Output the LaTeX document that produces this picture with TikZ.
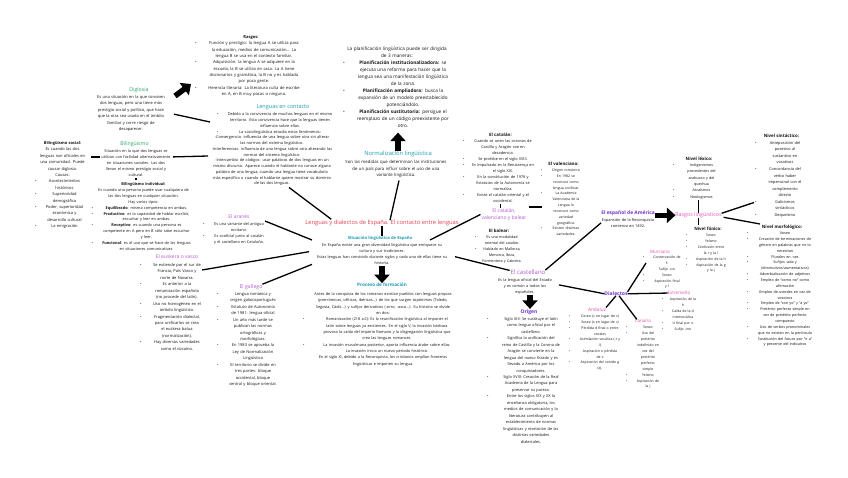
\documentclass[tikz,border=0pt]{standalone}
\usepackage{fontspec}
\setmainfont{Open Sans}
\usetikzlibrary{arrows.meta,calc}
\definecolor{txtc}{RGB}{20,20,20}
\definecolor{cgreen}{RGB}{45,165,100}
\definecolor{cteal}{RGB}{30,155,178}
\definecolor{ccoral}{RGB}{225,65,82}
\definecolor{cpurple}{RGB}{180,88,212}
\definecolor{cviolet}{RGB}{115,50,200}
\definecolor{cpink}{RGB}{225,85,178}
\newcommand\fsz[2]{\fontsize{#1}{#2}\selectfont\lineskip=0pt\lineskiplimit=0pt\parskip=0pt\parindent=0pt}
\newcommand\cl[1]{\begin{tabular}[t]{@{}c@{}}#1\end{tabular}}
\newcommand\bi[2][5pt]{\par\noindent\makebox[#1][l]{\textbullet}\makebox[\dimexpr\hsize-#1\relax][c]{\cl{#2}}\par}
\newcommand\bix[3]{\par\noindent\hspace*{#1}\makebox[#2][l]{\textbullet}\makebox[\dimexpr\hsize-#1-#2\relax][c]{\cl{#3}}\par}
\newcommand\ct[1]{\par\noindent\makebox[\hsize][c]{\cl{#1}}\par}
\newcommand\hd[1]{\textbf{\fontsize{4.4}{5}\selectfont #1}}
\begin{document}
\begin{tikzpicture}[x=1pt,y=-1pt,
 blk/.style={inner sep=0pt,outer sep=0pt,anchor=north,text width=#1pt,align=left,text=txtc},
 ttl/.style={inner sep=0pt,outer sep=0pt,anchor=mid},
 conn/.style={draw=black,line width=1.3pt},
 barrow/.style={draw=black,line width=5.5pt,-{Triangle[width=15pt,length=8.5pt]}}]
\fill[white] (0,0) rectangle (848,477);
\useasboundingbox (0,0) rectangle (848,477);

% ---------- left part ----------
\node[blk=112,font=\fsz{4.1}{6.35}] (rasgt) at (251,32) {\ct{\textbf{Rasgos:}}%
\bi[6pt]{Función y prestigio: la lengua A se utiliza para\\la educación, medios de comunicación... La\\lengua B se usa en el contexto familiar.}%
\bi[6pt]{Adquisición: la lengua A se adquiere en la\\escuela; la B se utiliza en casa. La A tiene\\diccionarios y gramática, la B no y es hablada\\por poca gente.}%
\bi[6pt]{Herencia literaria: La literatura culta de escribe\\en A, en B muy pocas o ninguna.}};

\node[ttl,text=cgreen,font=\fsz{5.2}{6}] (dig) at (139,89) {Diglosia};
\node[blk=90,font=\fsz{4}{6.4}] (digt) at (131,92) {\ct{Es una situación en la que conviven\\dos lenguas, pero una tiene más\\prestigio social y político, que hace\\que la otra sea usada en el ámbito\\familiar y corre riesgo de\\desaparecer.}};

\node[blk=55,font=\fsz{4}{6.4}] (bsoc) at (62.5,138) {\ct{\textbf{Bilingüismo social:}\\Es cuando las dos\\lenguas son oficiales en\\una comunidad. Puede\\causar diglosia.\\Causas:}%
\bi[4pt]{Acontecimientos\\históricos}\bi[4pt]{Superioridad\\demográfica}\bi[4pt]{Poder, superioridad\\económica y\\desarrollo cultural}\bi[4pt]{La emigración}};

\node[ttl,text=cgreen,font=\fsz{5.2}{6}] (bil) at (134.5,143) {Bilingüismo};
\node[blk=84,font=\fsz{3.85}{6}] (bilt) at (136,146) {\ct{Situación en la que dos lenguas se\\utilizan con facilidad alternativamente\\en situaciones sociales. Las dos\\llevan el mismo prestigio social y\\cultural.}};

\node[blk=104,font=\fsz{3.85}{5.85}] (bind) at (143.5,180) {\ct{\textbf{Bilingüismo individual:}\\Es cuando una persona puede usar cualquiera de\\las dos lenguas en cualquier situación.\\Hay varios tipos:}%
\bi[6pt]{\textbf{Equilibrado}: misma competencia en ambas.}%
\bi[6pt]{\textbf{Productivo}: es la capacidad de hablar escribir,\\escuchar y leer en ambas.}%
\bi[6pt]{\textbf{Receptivo}: es cuando una persona es\\competente en A pero en B sólo sabe escuchar\\y leer.}%
\bi[6pt]{\textbf{Funcional}: es el uso que se hace de las lenguas\\en situaciones comunicativas.}};

\node[ttl,text=cteal,font=\fsz{5.5}{6}] (cont) at (283,105.5) {Lenguas en contacto};
\node[blk=132,font=\fsz{3.9}{5.75}] (contt) at (272,110) {%
\bix{11pt}{5pt}{Debido a la convivencia de muchas lenguas en el mismo\\territorio. Esta convivencia hace que la lenguas tienen\\influencia sobre ellas.}%
\bix{11pt}{5pt}{La sociolingüística estudia estos fenómenos:}%
\ct{-Convergencia: influencia de una lengua sobre otra sin alterar\\las normas del sistema lingüístico.\\-Interferencias: influencia de una lengua sobre otra alterando las\\normas del sistema lingüístico.\\-Intercambio de códigos: usar palabras de dos lenguas en un\\mismo discurso. Aparece cuando el hablante no conoce alguna\\palabra de una lengua, cuando una lengua tiene vocabulario\\más específico o cuando el hablante quiere mostrar su dominio\\de las dos lenguas.}};

% ---------- centre ----------
\node[blk=120,font=\fsz{4.7}{7}] (plant) at (397,43.5) {\ct{La planificación lingüística puede ser dirigida\\de 3 maneras:}%
\bix{6pt}{6pt}{\textbf{Planificación institucionalizadora:} se\\ejecuta una reforma para hacer que la\\lengua sea una manifestación lingüística\\de la zona.}%
\bix{6pt}{6pt}{\textbf{Planificación ampliadora:} busca la\\expansión de un modelo preestablecido\\potenciándolo.}%
\bix{6pt}{6pt}{\textbf{Planificación sustitutoria:} persigue el\\reemplazo de un código preexistente por\\otro.}};

\node[ttl,text=cteal,font=\fsz{5.8}{6}] (norm) at (398,153) {Normalización lingüística};
\node[blk=130,font=\fsz{4.3}{6.5}] (normt) at (396,157) {\ct{Son las medidas que determinan las instituciones\\de un país para influir sobre el uso de una\\variante lingüística.}};

\node[ttl,text=ccoral,font=\fsz{5.8}{6}] (title) at (382,222) {Lenguas y dialectos de España. El contacto entre lenguas};

\node[ttl,text=cteal,font=\fsz{4.2}{6}\bfseries] (sit) at (380,236.5) {Situación lingüística de España};
\node[blk=150,font=\fsz{3.85}{5.9}] (sitt) at (382,241) {\ct{En España existe una gran diversidad lingüística que enriquece su\\cultura y sus tradiciones.\\Estas lenguas han convivido durante siglos y cada una de ellas tiene su\\historia.}};

\node[ttl,text=cteal,font=\fsz{4.6}{6}\bfseries] (proc) at (382,284) {Proceso de formación};
\node[blk=166,font=\fsz{3.85}{6.35}] (proct) at (383,289) {\ct{Antes de la conquista de los romanos existían pueblos con lenguas propias\\(prerrómicas, célticas, ibéricas...) de los que surgen topónimos (Toledo,\\Segovia, Cádiz...) y sufijos derivativos (-orro, -asco...). Su historia se divide\\en dos:}%
\bix{3pt}{5pt}{Romanización (218 a.C): Es la reunificación lingüística al imponer el\\latín sobre lenguas ya existentes. En el siglo V, la invasión bárbara\\provoca la caída del Imperio Romano y la disgregación lingüística que\\crea las lenguas romances.}%
\bix{3pt}{5pt}{La invasión musulmana posterior, aporta influencia árabe sobre ellas.\\La invasión inicia un nuevo periodo histórico.}%
\ct{En el siglo XI, debido a la Reconquista, los cristianos amplían fronteras\\lingüísticas e imponen su lengua.}};

\node[ttl,text=cpurple,font=\fsz{5}{6}] (aran) at (239,216) {El aranés};
\node[blk=66,font=\fsz{3.85}{6.1}] (arant) at (236,219) {\bi[6pt]{Es una variante del antiguo\\occitano.}\bi[6pt]{Es cooficial junto al catalán\\y el castellano en Cataluña.}};

\node[ttl,text=cpurple,font=\fsz{5}{6}] (eusk) at (177,256) {El euskera o vasco};
\node[blk=68,font=\fsz{4}{6.45}] (euskt) at (174,260) {%
\bi[6pt]{Se extiende por el sur de\\Francia, País Vasco y\\norte de Navarra.}%
\bi[6pt]{Es anterior a la\\romanización española\\(no procede del latín).}%
\bi[6pt]{Uso no homogéneo en el\\ámbito lingüístico.}%
\bi[6pt]{Fragmentación dialectal,\\para unificarlos se crea\\el euskera batua\\(normalización).}%
\bi[6pt]{Hay diversas variedades\\como el vizcaíno.}};

\node[ttl,text=cpurple,font=\fsz{5.2}{6}] (gall) at (251,285.5) {El gallego};
\node[blk=65,font=\fsz{4}{6.43}] (gallt) at (249.5,289) {%
\bi[7pt]{Lengua románica y\\origen galaicoportugués}%
\bi[7pt]{Estatuto de Autonomía\\de 1981: lengua oficial}%
\bi[7pt]{Un año más tarde se\\publican las normas\\ortográficas y\\morfológicas.}%
\bi[7pt]{En 1983 se aprueba la\\Ley de Normalización\\Lingüística}%
\bi[7pt]{El territorio se divide en\\tres partes: bloque\\occidental, bloque\\central y bloque oriental.}};

% ---------- right part ----------
\node[blk=75,font=\fsz{3.85}{6}] (catt) at (500.5,130) {\ct{\hd{El catalán:}}%
\bi{Cuando se unen las coronas de\\Castilla y Aragón cae en\\decadencia.}%
\bi{Se prohibe en el siglo XVIII.}%
\bi{Es impulsado en la Renaixença en\\el siglo XIX.}%
\bi{En la constitución de 1978 y\\Estatutos de la Autonomía se\\normaliza.}%
\bi{Existe el catalán oriental y el\\occidental.}};

\node[inner sep=0pt,align=center,text=cpurple,font=\fsz{5}{7}] (catl) at (504,214.5) {El catalán,\\valenciano y balear};

\node[blk=45,font=\fsz{3.5}{5.83}] (valt) at (563.5,160) {\ct{\hd{El valenciano:}}%
\bi{Origen románico}%
\bi{En 1982 se\\reconoce como\\lengua cooficial.}%
\bi{La Academia\\Valenciana de la\\Lengua lo\\reconoce como\\variedad\\geográfica.}%
\bi{Existen distintas\\variedades.}};

\node[blk=48,font=\fsz{3.7}{5.9}] (balt) at (499,227) {\ct{\hd{El balear:}}%
\bi[6pt]{Es una modalidad\\oriental del catalán.}%
\bi[6pt]{Hablado en Mallorca,\\Menorca, Ibiza,\\Formentera y Cabrera.}};

\node[ttl,text=cpurple,font=\fsz{6}{7}] (cast) at (528,272) {El castellano};
\node[blk=60,font=\fsz{3.85}{6}] (castt) at (525,275) {\ct{Es la lengua oficial del Estado\\y es común a todos los\\españoles.}};

\node[ttl,text=cviolet,font=\fsz{5}{6}\bfseries] (orig) at (529,311) {Origen};
\node[blk=81,font=\fsz{3.9}{6.45}] (origt) at (527.5,314) {%
\bi[7pt]{Siglo XIII: Se sustituye el latín\\como lengua oficial por el\\castellano.}%
\bi[7pt]{Significa la unificación del\\reino de Castilla y la Corona de\\Aragón se convierte en la\\lengua del nuevo Estado y es\\llevado a América por los\\conquistadores.}%
\bi[7pt]{Siglo XVIII: Creación de la Real\\Academia de la Lengua para\\preservar su pureza.}%
\bi[7pt]{Entre los siglos XIX y XX la\\enseñanza obligatoria, los\\medios de comunicación y la\\literatura contribuyen al\\establecimiento de normas\\lingüísticas y nivelación de las\\distintas variedades\\dialectales.}};

\node[ttl,text=cviolet,font=\fsz{5}{6}\bfseries] (dial) at (616,293) {Dialectos};

\node[ttl,text=cpink,font=\fsz{4.8}{6}] (and) at (597,308.5) {Andaluz};
\node[blk=57,font=\fsz{3.5}{5.75}] (andt) at (597.5,312) {%
\bi{Ceceo (c en lugar de s)}\bi{Seseo (s en lugar de c)}%
\bi{Pérdida d final o entre\\vocales}\bi{Asimilación vocálica (-r y\\-l)}%
\bi{Aspiración o pérdida\\de s}\bi{Aspiración del sonido g\\(x).}};

\node[ttl,text=cpink,font=\fsz{4.5}{6}] (murc) at (660,251) {Murciano};
\node[blk=43,font=\fsz{3.5}{5.8}] (murct) at (664.5,253) {%
\bi{Conservación de\\f-}\bi{Sufijo -ico}\bi{Seseo}\bi{Aspiración final\\y l}};

\node[ttl,text=cpink,font=\fsz{4.5}{6}] (extr) at (679,292) {Extremeño};
\node[blk=37,font=\fsz{3.5}{5.9}] (extrt) at (680.5,295) {%
\bi{Aspiración de la\\h}\bi{Caída de la d\\intervocálica}\bi{U final por o}\bi{Sufijo -ino}};

\node[ttl,text=cpink,font=\fsz{4.5}{6}] (can) at (643,320) {Canario};
\node[blk=39,font=\fsz{3.5}{5.9}] (cant) at (645.5,323) {%
\bi{Seseo}\bi{Uso del\\pretérito\\indefinido en\\vez del\\pretérito\\perfecto\\simple}\bi{Yeísmo}\bi{Aspiración de\\la j}};

\node[ttl,text=cviolet,font=\fsz{4.9}{6}\bfseries] (amer) at (628,212) {El español de América};
\node[blk=70,font=\fsz{3.85}{6}] (amert) at (628,215) {\ct{Expansión de la Reconquista\\comienza en 1492.}};

\node[ttl,text=cpink,font=\fsz{5.3}{6}] (rasgl) at (698.5,214) {Rasgos lingüísticos};

\node[blk=52,font=\fsz{3.7}{6.3}] (lext) at (699,154) {\ct{\hd{Nivel léxico:}}%
\bi{Indigenismos\\procedentes del\\arahuaco y del\\quechua}\bi{Arcaísmos}\bi{Neologismos}};

\node[blk=44,font=\fsz{3.5}{5.86}] (fonict) at (708,225) {\ct{\hd{Nivel fónico:}}%
\bi[6pt]{Seseo}\bi[6pt]{Yeísmo}\bi[6pt]{Confusión entre\\la r y la l}\bi[6pt]{Aspiración de la h}\bi[6pt]{Aspiración de la g\\y la j}};

\node[blk=53,font=\fsz{3.9}{6.58}] (sintt) at (781.5,131) {\ct{\hd{Nivel sintáctico:}}%
\bi[7pt]{Anteposición del\\posesivo al\\sustantivo en\\vocativos}%
\bi[7pt]{Concordancia del\\verbo haber\\impersonal con el\\complemento\\directo}%
\bi[7pt]{Galicismos\\sintácticos}\bi[7pt]{Dequeísmo}};

\node[blk=70,font=\fsz{3.7}{5.85}] (morft) at (782,223) {\ct{\hd{Nivel morfológico:}}%
\bi[6pt]{Voseo}%
\bi[6pt]{Creación de terminaciones de\\género en palabras que no lo\\necesitan}%
\bi[6pt]{Plurales en -ses}%
\bi[6pt]{Sufijos -ada y\\(diminutivos/aumentativos)}%
\bi[6pt]{Adverbialización de adjetivos}%
\bi[6pt]{Empleo de “como no” como\\afirmación}%
\bi[6pt]{Empleo de ustedes en vez de\\vosotros}%
\bi[6pt]{Empleo de “con yo” y “a yo”}%
\bi[6pt]{Pretérito perfecto simple en\\vez de pretérito perfecto\\compuesto}%
\bi[6pt]{Uso de verbos pronominales\\que no existen en la península}%
\bi[6pt]{Sustitución del futuro por “ir a”\\y presente del indicativo}};

% ---------- connectors ----------
\draw[conn] ($(digt.east)+(-2,2)$) -- ($(contt.north west)+(4,12)$);
\draw[conn] ($(bilt.east)+(-5,-5)$) -- ($(contt.north west)+(2,46)$);
\draw[conn] ($(bsoc.north east)+(1,19)$) -- ($(bilt.north west)+(6,11)$);
\draw[conn] (bilt.south) -- (bilt.south |- bind.north);
\draw[conn] ($(contt.south)+(17,1)$) -- ($(title.north west)+(26,-1)$);
\draw[conn] ($(arant.north east)+(-4,2)$) -- ($(sitt.north west)+(5,-1)$);
\draw[conn] ($(euskt.north east)+(-6,10)$) -- ($(sitt.west)+(2,-2)$);
\draw[conn] (gall.north east) -- ($(sitt.south west)+(5,-2)$);
\draw[conn] ($(title.north)+(8,0)$) -- ($(normt.south)+(3,2)$);
\draw[conn] (title.south) -- (title.south |- sit.north);
\draw[conn] ($(sitt.north east)+(-27,-1)$) -- ($(catl.west)+(-1,0)$);
\draw[conn] ($(sitt.east)+(-2,3)$) -- ($(cast.west)+(-1,-2)$);
\draw[conn] (catt.south) -- (catt.south |- catl.north);
\draw[conn,line width=1.8pt] ($(catl.north east)+(2,-1)$) -- ($(catl.north east -| valt.west)+(1,-1)$);
\draw[conn] (cast.north east) -- ($(amert.west)+(8,1)$);
\draw[conn] ($(castt.east)+(4,0)$) -- (dial.west);
\draw[conn] (dial.south) -- (and.north east);
\draw[conn] (dial.north east) -- ($(murct.north west)+(3,10)$);
\draw[conn] (dial.east) -- (extr.west);
\draw[conn] ($(dial.south)+(3,0)$) -- ($(can.north west)+(2,0)$);
\draw[conn] (rasgl.north) -- (rasgl.north |- lext.south);
\draw[conn] (rasgl.south) -- (rasgl.south |- fonict.north);
\draw[conn] ($(rasgl.east)+(0,-2)$) -- ($(sintt.south west)+(-1,-16)$);
\draw[conn] ($(rasgl.east)+(2,2)$) -- ($(morft.north west)+(13,1)$);

% block arrows
\draw[barrow] ($(digt.north east)+(-1,4)$) -- ($(rasgt.north west)+(-4,52)$);
\draw[barrow,shorten >=3pt] (norm.north) -- (norm.north |- plant.south);
\draw[barrow] (sitt.south) -- (sitt.south |- proc.north);
\draw[barrow] ($(castt.south)+(5,0)$) -- ($(orig.north)+(1,-1)$);
\draw[barrow] (rasgl.west -| amer.east) -- (rasgl.west);
\end{tikzpicture}
\end{document}
